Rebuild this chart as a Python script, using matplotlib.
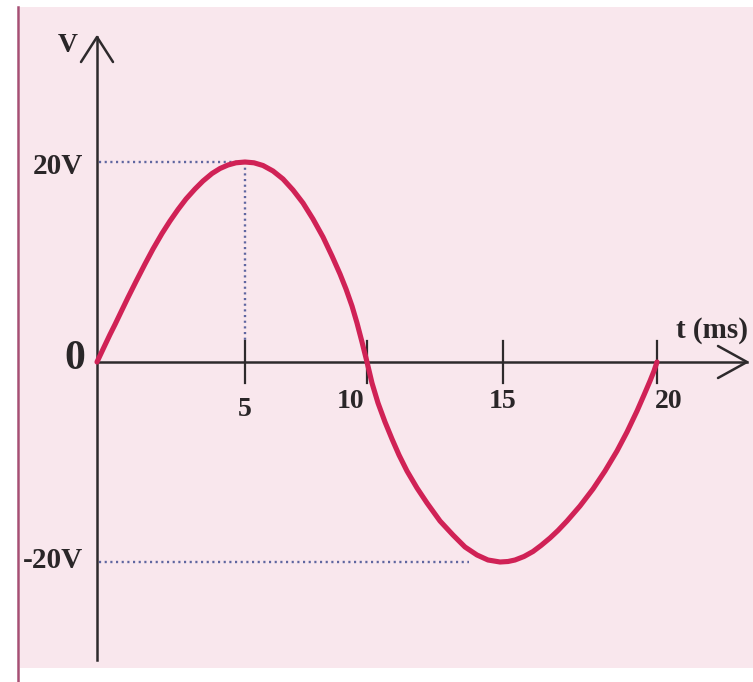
import numpy as np
import matplotlib.pyplot as plt
from matplotlib.patches import Rectangle
from matplotlib.lines import Line2D

# curve: time (ms) and voltage (V)
t_ms = [0, 0.143, 0.286, 0.464, 0.643, 0.857, 1.107, 1.393, 1.714, 2.0,
        2.321, 2.607, 2.893, 3.179, 3.5, 3.786, 4.107, 4.393, 4.679, 4.964,
        5.286, 5.607, 5.929, 6.286, 6.643, 7.0, 7.357, 7.714, 8.071, 8.393,
        8.679, 8.893, 9.107, 9.286, 9.464, 9.643,
        9.821, 10.036, 10.286, 10.536, 10.786, 11.071, 11.429, 11.786, 12.25,
        12.714, 13.143, 13.571, 13.964, 14.393, 14.679, 14.929, 15.25, 15.571,
        15.857, 16.179, 16.464, 16.786, 17.25, 17.714, 18.143, 18.571, 18.929,
        19.286, 19.536, 19.75, 19.893, 20.0]
v_volt = [0, 0.85, 1.7, 2.75, 3.75, 5.0, 6.45, 8.05, 9.8, 11.3,
          12.85, 14.1, 15.25, 16.3, 17.3, 18.1, 18.85, 19.35, 19.7, 19.92,
          20.0, 19.92, 19.65, 19.1, 18.3, 17.2, 15.9, 14.3, 12.5, 10.6,
          8.8, 7.3, 5.6, 3.9, 2.0, 0,
          -2.1, -4.1, -6.0, -7.7, -9.3, -10.9, -12.6, -14.1, -15.9,
          -17.3, -18.5, -19.3, -19.8, -20.0, -19.95, -19.8, -19.45, -18.95,
          -18.35, -17.6, -16.85, -15.9, -14.4, -12.7, -10.9, -8.9, -7.0,
          -4.9, -3.3, -1.9, -0.9, 0]

tick_pos = [5.29, 9.64, 14.5, 20.0]
tick_labels = ['5', '10', '15', '20']
label_pos = [5.29, 9.04, 14.5, 20.4]
label_v = [-4.7, -3.9, -4.0, -3.9]

v_peak = 20
t_peak = 5.29
t_trough_dot = 13.3

W, H = 753, 682
fig = plt.figure(figsize=(W / 100, H / 100), dpi=100)
fig.patch.set_facecolor('white')

ax = fig.add_axes([0, 0, 1, 1])
ax.set_facecolor('none')
xmin, xmax = -97 / 28, (W - 97) / 28
ymin, ymax = (362 - H) / 10, 362 / 10
ax.set_xlim(xmin, xmax)
ax.set_ylim(ymin, ymax)
ax.axis('off')

# pink panel + left border line
ax.add_patch(Rectangle((20 / W, 14 / H), 1 - 20 / W, (668 - 7) / H,
                       transform=fig.transFigure, facecolor='#f9e7ed',
                       edgecolor='none', zorder=0, clip_on=False))
ax.add_line(Line2D([18 / W, 18 / W], [0, 1 - 7 / H], transform=fig.transFigure,
                   color='#a64f74', lw=1.8, zorder=0, clip_on=False))

px_t = (xmax - xmin) / W   # data units per pixel
px_v = (ymax - ymin) / H

axis_col = '#2e2a2c'
dot_col = '#5f66a0'

# axes lines
y_top = 362 / 10 - 37 * px_v
ax.plot([0, 0], [-29.8, y_top], color=axis_col, lw=1.8, zorder=2)
ax.plot([-16 * px_t, 0, 16 * px_t], [y_top - 25 * px_v, y_top, y_top - 25 * px_v],
        color=axis_col, lw=1.8, solid_capstyle='round', zorder=2)
x_end = (747 - 97) / 28
ax.plot([0, x_end], [0, 0], color=axis_col, lw=1.8, zorder=2)
ax.plot([x_end - 29 * px_t, x_end, x_end - 29 * px_t], [16 * px_v, 0, -16 * px_v],
        color=axis_col, lw=1.8, solid_capstyle='round', zorder=2)

# ticks
for tp in tick_pos:
    ax.plot([tp, tp], [-2.1, 2.1], color=axis_col, lw=1.6, zorder=2)

# dotted guides
dots = dict(color=dot_col, lw=1.7, linestyle=(0, (0.9, 1.5)), zorder=1)
ax.plot([2 * px_t, t_peak], [v_peak, v_peak], **dots)
ax.plot([t_peak, t_peak], [v_peak, 2.1], **dots)
ax.plot([2 * px_t, t_trough_dot], [-v_peak, -v_peak], **dots)

# the wave
ax.plot(t_ms, v_volt, color='#d02256', lw=3.7, solid_capstyle='round',
        solid_joinstyle='round', zorder=3)

font = dict(family='Liberation Serif', fontweight='bold', color='#2a2628')
for lp, lv, lab in zip(label_pos, label_v, tick_labels):
    ax.text(lp, lv, lab, ha='center', va='center', fontsize=20, **font)

ax.text(-1.04, 31.6, 'V', ha='center', va='center', fontsize=20, **font)
ax.text(-0.50, 19.5, '20V', ha='right', va='center', fontsize=21, **font)
ax.text(-0.43, 0.3, '0', ha='right', va='center', fontsize=30, **font)
ax.text(-0.50, -19.8, '-20V', ha='right', va='center', fontsize=21, **font)
ax.text(21.96, 3.2, 't (ms)', ha='center', va='center', fontsize=21, **font)

fig.savefig('out.png', dpi=100, facecolor=fig.get_facecolor())
